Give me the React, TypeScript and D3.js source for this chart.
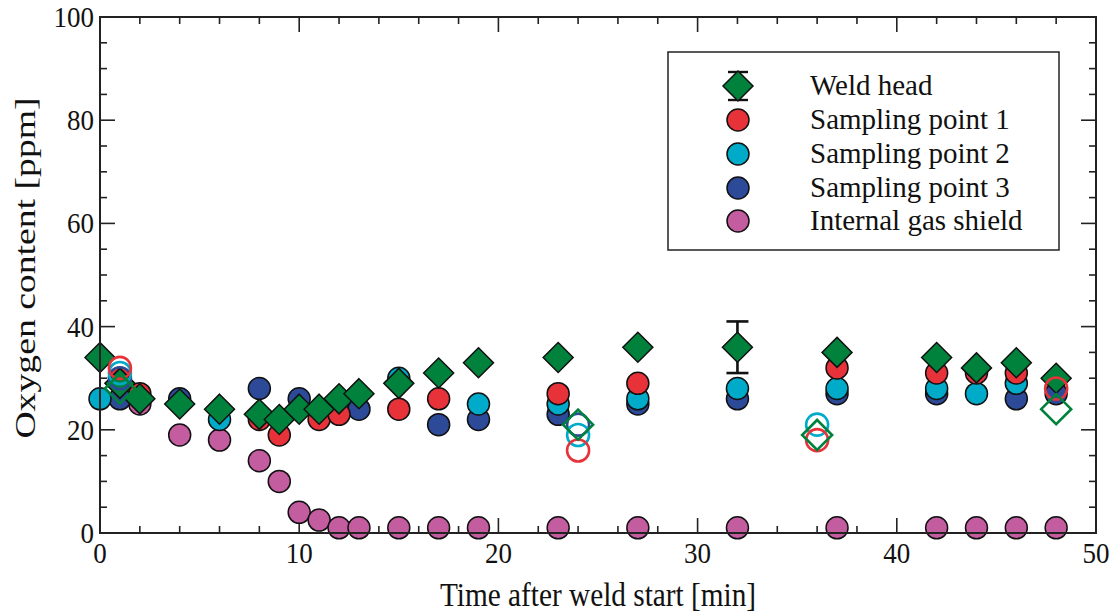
import React from "react";
import * as d3 from "d3";

// Weld head (filled diamonds, with error bars)
const weldT = [0, 1, 2, 4, 6, 8, 9, 10, 11, 12, 13, 15, 17, 19, 23, 27, 32, 37, 42, 44, 46, 48];
const weldV = [34, 29, 26, 25, 24, 23, 22, 24, 24, 26, 27, 29, 31, 33, 34, 36, 36, 35, 34, 32, 33, 30];
const weldErr = [0, 0, 0, 0, 0, 0, 0, 0, 0, 0, 0, 0, 0, 0, 0, 0, 5, 0, 0, 0, 0, 0];
const weldOpenT = [1, 24, 36, 48];
const weldOpenV = [28, 21, 19, 24];

// Sampling point 1
const sp1T = [1, 2, 8, 9, 11, 12, 15, 17, 23, 27, 37, 42, 44, 46];
const sp1V = [30, 27, 22, 19, 22, 23, 24, 26, 27, 29, 32, 31, 31, 31];
const sp1OpenT = [1, 24, 36, 48];
const sp1OpenV = [32, 16, 18, 28];

// Sampling point 2
const sp2T = [0, 6, 15, 19, 23, 27, 32, 37, 42, 44, 46];
const sp2V = [26, 22, 30, 25, 25, 26, 28, 28, 28, 27, 29];
const sp2OpenT = [1, 24, 36];
const sp2OpenV = [31, 19, 21];

// Sampling point 3
const sp3T = [1, 4, 8, 10, 13, 17, 19, 23, 27, 32, 37, 42, 46, 48];
const sp3V = [26, 26, 28, 26, 24, 21, 22, 23, 25, 26, 27, 27, 26, 27];
const sp3OpenT = [1, 24];
const sp3OpenV = [30, 21];

// Internal gas shield
const igsT = [2, 4, 6, 8, 9, 10, 11, 12, 13, 15, 17, 19, 23, 27, 32, 37, 42, 44, 46, 48];
const igsV = [25, 19, 18, 14, 10, 4, 2.5, 1, 1, 1, 1, 1, 1, 1, 1, 1, 1, 1, 1, 1];

const xMajor = [0, 10, 20, 30, 40, 50];
const yMajor = [0, 20, 40, 60, 80, 100];
const legendLabels = ["Weld head", "Sampling point 1", "Sampling point 2", "Sampling point 3", "Internal gas shield"];

const GREEN = "#00823c";
const RED = "#e8323a";
const CYAN = "#00abc9";
const BLUE = "#2c4a98";
const PINK = "#c45ca0";
const FONT = "'Liberation Serif', 'Times New Roman', serif";

const L = 100, R = 1096, T = 17, B = 533;
const x = d3.scaleLinear().domain([0, 50]).range([L, R]);
const y = d3.scaleLinear().domain([0, 100]).range([B, T]);

const CR = 11;
const DR = 15;
const diamond = (cx: number, cy: number, r: number) =>
  `M${cx},${cy - r}L${cx + r},${cy}L${cx},${cy + r}L${cx - r},${cy}Z`;

function Circles({ ts, vs, color, open }: { ts: number[]; vs: number[]; color: string; open?: boolean }) {
  return (
    <g>
      {ts.map((t, i) => (
        <circle
          key={i}
          cx={x(t)}
          cy={y(vs[i])}
          r={CR}
          fill={open ? "none" : color}
          stroke={open ? color : "#111"}
          strokeWidth={open ? 2.6 : 1.5}
        />
      ))}
    </g>
  );
}

function Txt({ x0, y0, size, anchor, vs, children }: { x0: number; y0: number; size: number; anchor?: string; vs?: number; children: React.ReactNode }) {
  return (
    <text
      transform={`translate(${x0},${y0}) scale(1,${vs ?? 1.13})`}
      fontFamily={FONT}
      fontSize={size}
      fill="#111"
      textAnchor={anchor || "start"}
    >
      {children}
    </text>
  );
}

export default function App() {
  const xMinor = d3.range(0, 51, 2).filter((v) => v % 10 !== 0);
  const yMinor = d3.range(0, 101, 5).filter((v) => v % 20 !== 0);
  const tickStroke = "#222";
  const legendYs = [86, 120, 154, 188, 221];
  const lx = 738;
  return (
    <div style={{ position: "absolute", left: 0, top: 0 }}>
      <svg width={1113} height={615} style={{ display: "block", background: "#fff" }}>
        {/* ticks */}
        <g stroke={tickStroke} strokeWidth={1.6}>
          {xMajor.map((v) => (
            <g key={"xm" + v}>
              <line x1={x(v)} x2={x(v)} y1={B} y2={B - 15} />
              <line x1={x(v)} x2={x(v)} y1={T} y2={T + 15} />
            </g>
          ))}
          {xMinor.map((v) => (
            <g key={"xn" + v}>
              <line x1={x(v)} x2={x(v)} y1={B} y2={B - 7} />
              <line x1={x(v)} x2={x(v)} y1={T} y2={T + 7} />
            </g>
          ))}
          {yMajor.map((v) => (
            <g key={"ym" + v}>
              <line x1={L} x2={L + 15} y1={y(v)} y2={y(v)} />
              <line x1={R} x2={R - 15} y1={y(v)} y2={y(v)} />
            </g>
          ))}
          {yMinor.map((v) => (
            <g key={"yn" + v}>
              <line x1={L} x2={L + 7} y1={y(v)} y2={y(v)} />
              <line x1={R} x2={R - 7} y1={y(v)} y2={y(v)} />
            </g>
          ))}
        </g>

        {/* filled series */}
        <Circles ts={igsT} vs={igsV} color={PINK} />
        <Circles ts={sp3T} vs={sp3V} color={BLUE} />
        <Circles ts={sp2T} vs={sp2V} color={CYAN} />
        <Circles ts={sp1T} vs={sp1V} color={RED} />
        <g>
          {weldT.map((t, i) =>
            weldErr[i] > 0 ? (
              <g key={"e" + i} stroke="#111" strokeWidth={2.6}>
                <line x1={x(t)} x2={x(t)} y1={y(weldV[i] - weldErr[i])} y2={y(weldV[i] + weldErr[i])} />
                <line x1={x(t) - 11} x2={x(t) + 11} y1={y(weldV[i] + weldErr[i])} y2={y(weldV[i] + weldErr[i])} />
                <line x1={x(t) - 11} x2={x(t) + 11} y1={y(weldV[i] - weldErr[i])} y2={y(weldV[i] - weldErr[i])} />
              </g>
            ) : null
          )}
          {weldT.map((t, i) => (
            <path key={i} d={diamond(x(t), y(weldV[i]), DR)} fill={GREEN} stroke="#111" strokeWidth={1.5} />
          ))}
        </g>

        {/* open series */}
        <Circles ts={sp3OpenT} vs={sp3OpenV} color={BLUE} open />
        <Circles ts={sp2OpenT} vs={sp2OpenV} color={CYAN} open />
        <Circles ts={sp1OpenT} vs={sp1OpenV} color={RED} open />
        <g>
          {weldOpenT.map((t, i) => (
            <path key={i} d={diamond(x(t), y(weldOpenV[i]), DR)} fill="none" stroke={GREEN} strokeWidth={2.6} />
          ))}
        </g>

        {/* frame */}
        <rect x={L} y={T} width={R - L} height={B - T} fill="none" stroke={tickStroke} strokeWidth={2} />

        {/* tick labels */}
        {xMajor.map((v) => (
          <Txt key={"xl" + v} x0={x(v)} y0={B + 30} size={27} anchor="middle">
            {v}
          </Txt>
        ))}
        {yMajor.map((v) => (
          <Txt key={"yl" + v} x0={L - 6} y0={y(v) + 10} size={27} anchor="end">
            {v}
          </Txt>
        ))}

        {/* axis titles */}
        <Txt x0={(L + R) / 2} y0={606} size={29.3} anchor="middle">
          Time after weld start [min]
        </Txt>
        <text
          transform={`translate(35,268) rotate(-90) scale(1.3,1)`}
          textAnchor="middle"
          fontFamily={FONT}
          fontSize={29}
          fill="#111"
        >
          Oxygen content [ppm]
        </text>

        {/* legend */}
        <rect x={668} y={52} width={391} height={198} fill="#fff" stroke="#222" strokeWidth={1.5} />
        <g stroke="#111" strokeWidth={2.4}>
          <line x1={lx} x2={lx} y1={legendYs[0] - 14} y2={legendYs[0] + 14} />
          <line x1={lx - 10} x2={lx + 10} y1={legendYs[0] - 14} y2={legendYs[0] - 14} />
          <line x1={lx - 10} x2={lx + 10} y1={legendYs[0] + 14} y2={legendYs[0] + 14} />
        </g>
        <path d={diamond(lx, legendYs[0], DR)} fill={GREEN} stroke="#111" strokeWidth={1.5} />
        {[RED, CYAN, BLUE, PINK].map((c, i) => (
          <circle key={c} cx={lx} cy={legendYs[i + 1]} r={CR} fill={c} stroke="#111" strokeWidth={1.5} />
        ))}
        {legendLabels.map((s, i) => (
          <Txt key={s} x0={810} y0={legendYs[i] + 9} size={29} vs={1.0}>
            {s}
          </Txt>
        ))}
      </svg>
    </div>
  );
}
